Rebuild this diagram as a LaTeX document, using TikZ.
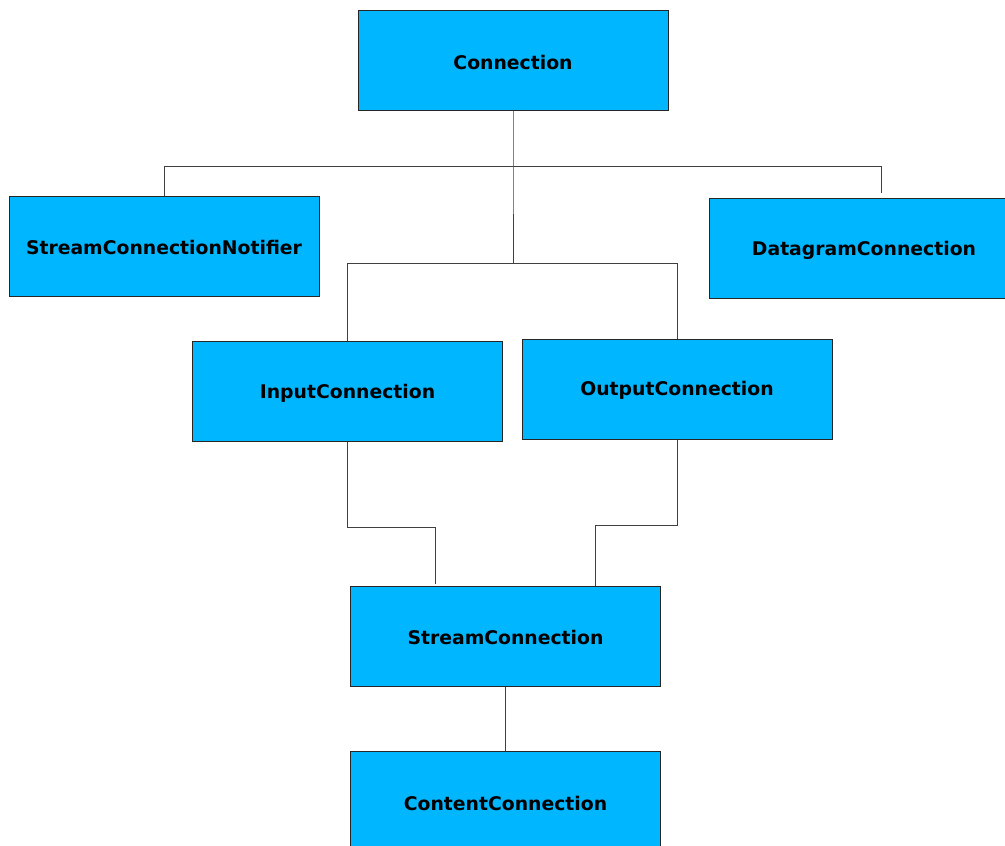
\documentclass[tikz,border=0pt]{standalone}
\usepackage{fontspec}
\setmainfont{DejaVu Sans}
\definecolor{boxblue}{RGB}{0,182,255}
\begin{document}
\begin{tikzpicture}[x=1pt,y=-1pt,
  cls/.style={draw=black!85, line width=1pt, fill=boxblue, minimum width=310pt, minimum height=100pt, inner sep=0pt,
    font=\fontsize{18.8}{22}\selectfont\bfseries},
  lbl/.style={font=\fontsize{18.8}{22}\selectfont\bfseries, inner sep=0pt},
  link/.style={draw=black!75, line width=1pt}]
\useasboundingbox (0,0) rectangle (1005,846);
\clip (0,0) rectangle (1005,846);
\node[cls] (conn) at (513,60.5) {};
\node[cls] (scn) at (164,246) {};
\node[cls] (dg) at (864,248.5) {};
\node[cls] (inp) at (347.5,391.5) {};
\node[cls] (outp) at (677,389) {};
\node[cls] (sc) at (505.5,636) {};
\node[cls] (cc) at (505.5,801.5) {};
\node[lbl] (connT) at ([yshift=-1.5pt]conn.center) {Connection};
\node[lbl] (scnT) at ([yshift=-1.5pt]scn.center) {StreamConnectionNotifier};
\node[lbl] (dgT) at ([yshift=-1.5pt]dg.center) {DatagramConnection};
\node[lbl] (inpT) at ([yshift=-1.5pt]inp.center) {InputConnection};
\node[lbl] (outpT) at ([yshift=-1.5pt]outp.center) {OutputConnection};
\node[lbl] (scT) at ([yshift=-1.5pt]sc.center) {StreamConnection};
\node[lbl] (ccT) at ([yshift=-1.5pt]cc.center) {ContentConnection};
\coordinate (bus1) at (513,166);
\coordinate (bus2) at (513,263);
\coordinate (dgend) at (881,193);
\coordinate (inend) at (435,584);
\draw[link] (conn.south) -- (bus1) -- (bus2);
\draw[link] (scn.north) -- (scn.north |- bus1) -- (dgend |- bus1) -- (dgend);
\draw[link] (inp.north) -- (inp.north |- bus2) -- (outp.north |- bus2) -- (outp.north);
\draw[link] (inp.south) -- ++(0,85) -| (inend);
\draw[link] (outp.south) -- ++(0,86) -| (595,0 |- sc.north);
\draw[link] (sc.south) -- (cc.north);
\end{tikzpicture}
\end{document}
